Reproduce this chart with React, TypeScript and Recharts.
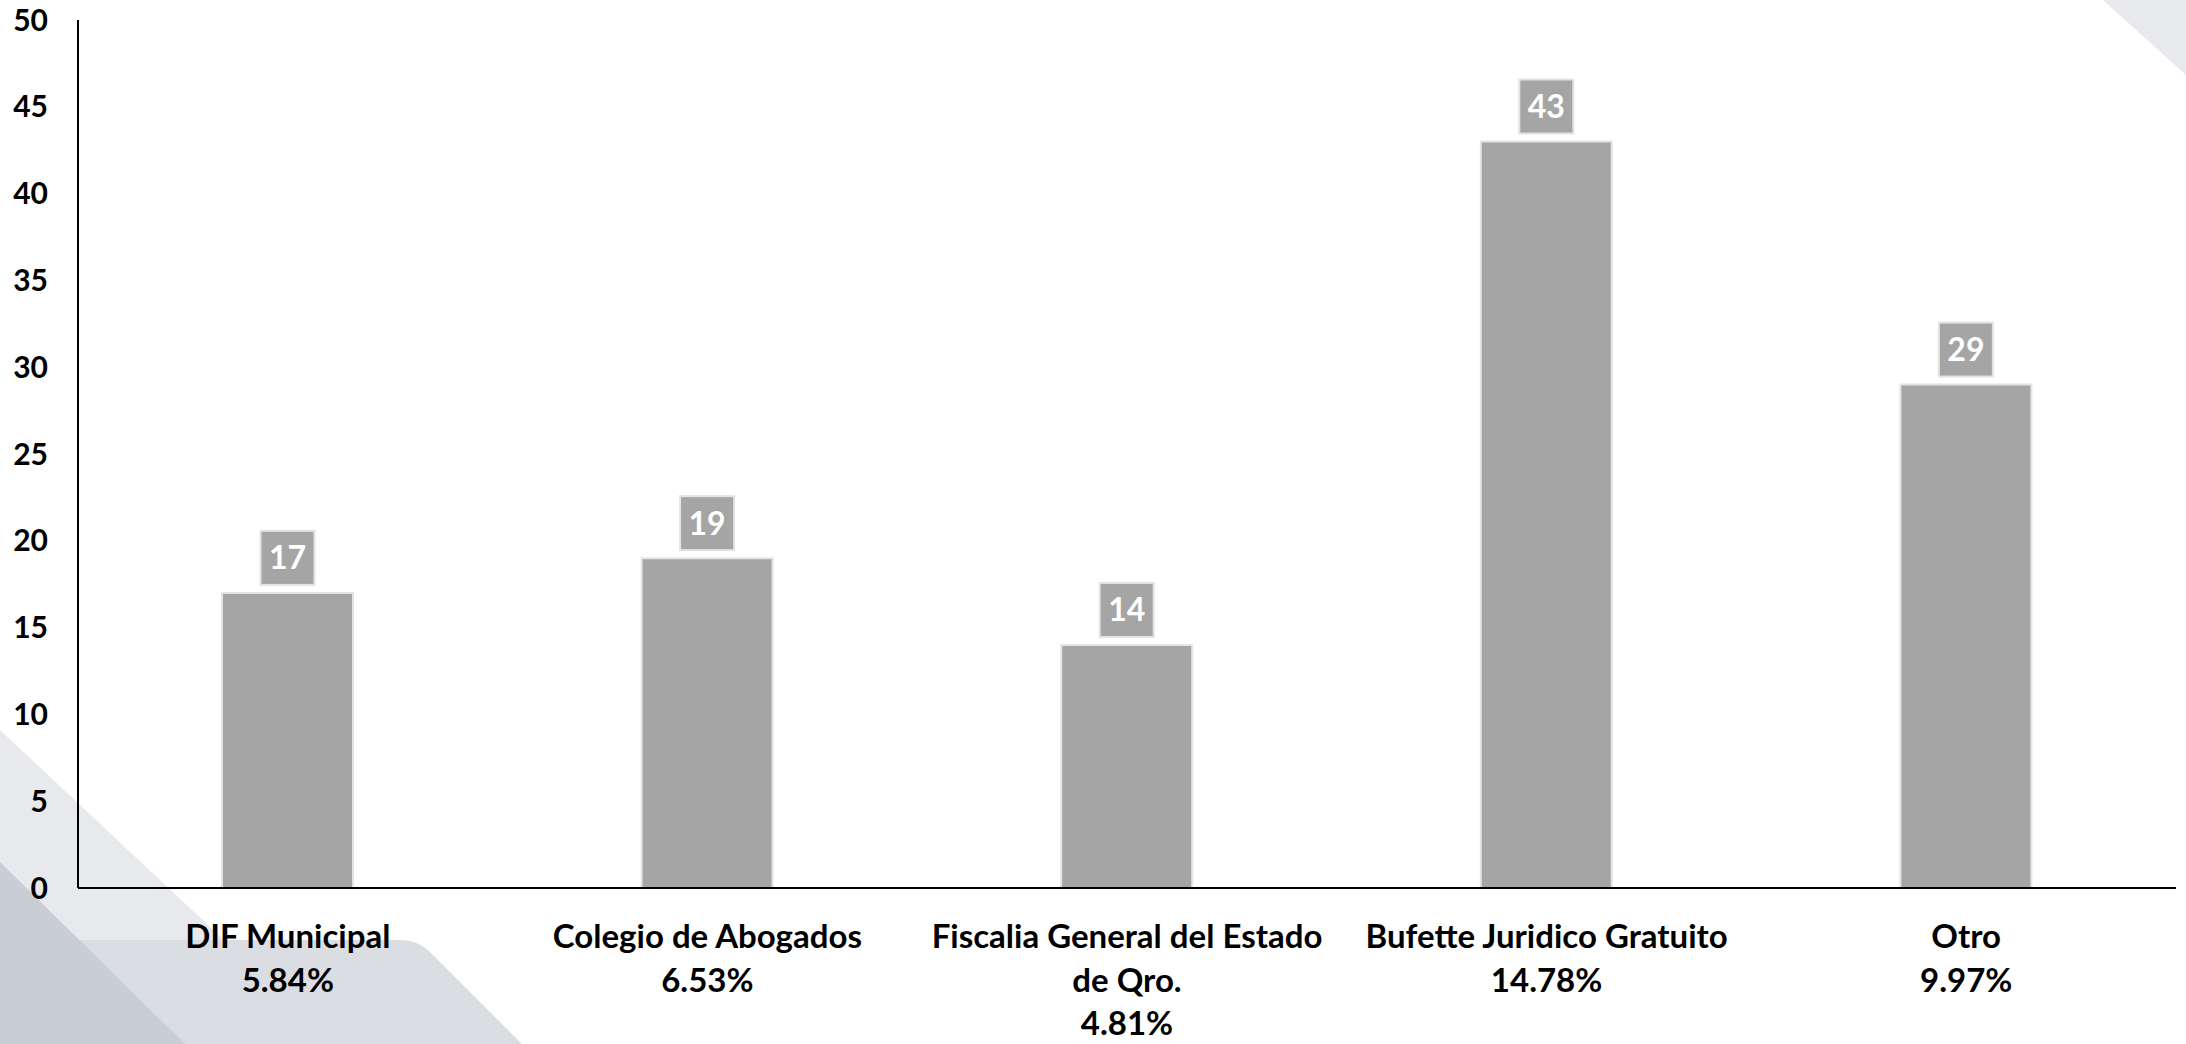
import React from "react";
import { BarChart, Bar, XAxis, YAxis, LabelList } from "recharts";

const categories = [
  "DIF Municipal",
  "Colegio de Abogados",
  "Fiscalia General del Estado de Qro.",
  "Bufette Juridico Gratuito",
  "Otro",
];
const counts = [17, 19, 14, 43, 29];
const percents = ["5.84%", "6.53%", "4.81%", "14.78%", "9.97%"];
const yTicks = [0, 5, 10, 15, 20, 25, 30, 35, 40, 45, 50];

const W = 2186;
const H = 1044;
const FONT = "Lato, 'Open Sans', sans-serif";
const BAR_GREY = "#a5a5a5";
const CAT_SIZE = 33;

const data = categories.map((name, i) => ({ name, value: counts[i], pct: percents[i] }));

// canvas measure so long names wrap like the original (band is ~420px)
const ctx = typeof document !== "undefined" ? document.createElement("canvas").getContext("2d") : null;
function wrap(text: string, maxWidth: number, font: string): string[] {
  if (!ctx) return [text];
  ctx.font = font;
  const words = text.split(" ");
  const lines: string[] = [];
  let cur = "";
  for (const w of words) {
    const next = cur ? cur + " " + w : w;
    if (cur && ctx.measureText(next).width > maxWidth) {
      lines.push(cur);
      cur = w;
    } else {
      cur = next;
    }
  }
  if (cur) lines.push(cur);
  return lines;
}

function CategoryTick(props: any) {
  const { x, y, payload, index } = props;
  const lines = [...wrap(payload.value, 420, `bold ${CAT_SIZE}px Lato`), percents[index]];
  return (
    <text x={x} y={y + 60} textAnchor="middle" fill="#000" fontFamily={FONT} fontWeight={700} fontSize={CAT_SIZE}>
      {lines.map((l, i) => (
        <tspan key={i} x={x} dy={i === 0 ? 0 : 43.5}>
          {l}
        </tspan>
      ))}
    </text>
  );
}

function ValueBadge(props: any) {
  const { x, y, width, value } = props;
  const cx = x + width / 2;
  const bw = 54;
  const bh = 54;
  const top = y - 8 - bh;
  return (
    <g>
      <rect x={cx - bw / 2} y={top} width={bw} height={bh} fill={BAR_GREY} stroke="#e3e3e3" strokeWidth={2} />
      <text
        x={cx}
        y={top + bh / 2}
        dy="0.36em"
        textAnchor="middle"
        fill="#fff"
        fontFamily={FONT}
        fontWeight={700}
        fontSize={32}
      >
        {value}
      </text>
    </g>
  );
}

function Backdrop() {
  return (
    <svg width={W} height={H} style={{ position: "absolute", left: 0, top: 0 }}>
      <polygon points="2103,0 2186,0 2186,75" fill="#e8e9ed" />
      <polygon points="0,730 335,1044 0,1044" fill="#e8e9ec" />
      <path d="M0 940 H400 Q418 940 430 952 L522 1044 H0 Z" fill="#dadde1" />
      <polygon points="0,862 185,1044 0,1044" fill="#c9ced5" />
    </svg>
  );
}

export default function App() {
  return (
    <div
      style={{
        position: "absolute",
        left: 0,
        top: 0,
        width: W,
        height: H,
        background: "#fff",
        overflow: "hidden",
        fontFamily: FONT,
      }}
    >
      <Backdrop />
      <div style={{ position: "absolute", left: 0, top: 0 }}>
        <BarChart width={W} height={H} data={data} margin={{ top: 20, right: 10, left: 0, bottom: 0 }}>
          <XAxis
            dataKey="name"
            interval={0}
            height={156}
            tickSize={0}
            tickMargin={0}
            tick={<CategoryTick />}
            axisLine={{ stroke: "#000", strokeWidth: 2 }}
            tickLine={false}
          />
          <YAxis
            domain={[0, 50]}
            ticks={yTicks}
            width={78}
            tickSize={0}
            tickMargin={30}
            axisLine={{ stroke: "#000", strokeWidth: 2 }}
            tickLine={false}
            tick={{ fill: "#000", fontSize: 30, fontWeight: 700, fontFamily: FONT }}
          />
          <Bar dataKey="value" fill={BAR_GREY} stroke="#e4e4e4" strokeWidth={2} barSize={131} isAnimationActive={false}>
            <LabelList dataKey="value" content={<ValueBadge />} />
          </Bar>
        </BarChart>
      </div>
    </div>
  );
}
